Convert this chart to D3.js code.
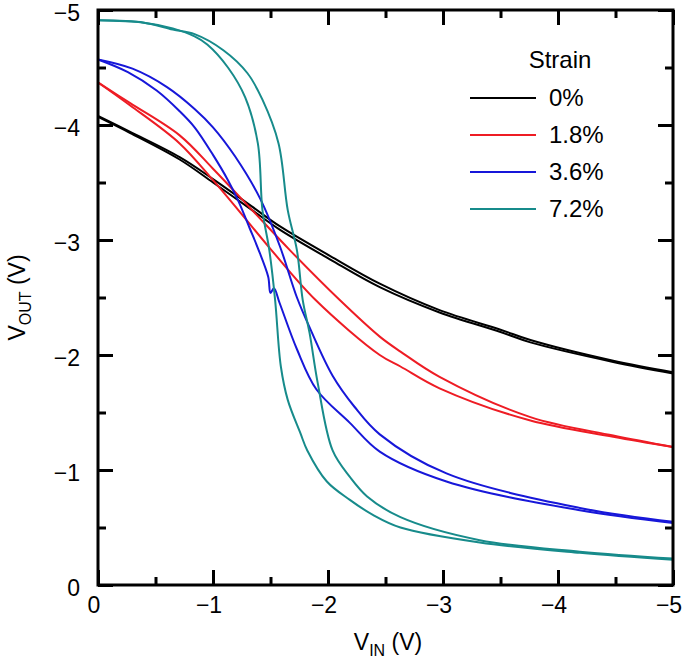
<!DOCTYPE html>
<html>
<head>
<meta charset="utf-8">
<script src="https://cdn.jsdelivr.net/npm/d3@7"></script>
<style>
  body { margin: 0; background: #fff; }
  text { font-family: "Liberation Sans", Arial, sans-serif; fill: #000; }
</style>
</head>
<body>
<svg id="chart" width="685" height="669"></svg>
<script>
var strainLabels = ['0%', '1.8%', '3.6%', '7.2%'];
var strainColors = ['#000000', '#ee1c24', '#1717d9', '#178b8b'];
var xTicks = [0, -1, -2, -3, -4, -5];
var yTicks = [0, -1, -2, -3, -4, -5];
var minorTicks = [-0.5, -1.5, -2.5, -3.5, -4.5];

var strain0A = [[0,-4.07],[-0.28,-3.93],[-0.71,-3.70],[-1.0,-3.50],[-1.34,-3.26],[-1.58,-3.09],[-2.02,-2.83],[-2.45,-2.59],[-2.97,-2.37],[-3.5,-2.20],[-3.76,-2.11],[-4.48,-1.94],[-5.0,-1.84]];
var strain0B = [[0,-4.08],[-0.28,-3.94],[-0.71,-3.72],[-1.0,-3.53],[-1.34,-3.29],[-1.58,-3.12],[-2.02,-2.86],[-2.45,-2.62],[-2.97,-2.39],[-3.5,-2.22],[-3.76,-2.13],[-4.48,-1.95],[-5.0,-1.85]];
var strain18A = [[0,-4.37],[-0.28,-4.19],[-0.71,-3.91],[-1.0,-3.62],[-1.34,-3.26],[-1.67,-2.91],[-2.10,-2.48],[-2.45,-2.16],[-2.63,-2.03],[-2.97,-1.81],[-3.76,-1.46],[-4.48,-1.30],[-5.0,-1.20]];
var strain18B = [[0,-4.37],[-0.28,-4.17],[-0.71,-3.84],[-1.0,-3.52],[-1.22,-3.26],[-1.51,-2.91],[-1.89,-2.48],[-2.45,-2.00],[-2.63,-1.90],[-2.97,-1.71],[-3.76,-1.43],[-4.48,-1.29],[-5.0,-1.20]];
var strain36A = [[0,-4.57],[-0.3,-4.49],[-0.6,-4.33],[-0.84,-4.14],[-1.0,-3.98],[-1.19,-3.73],[-1.41,-3.36],[-1.58,-2.95],[-1.73,-2.50],[-1.84,-2.24],[-2.04,-1.82],[-2.23,-1.55],[-2.45,-1.31],[-3.03,-0.97],[-4.19,-0.67],[-5.0,-0.55]];
var strain36B = [[0,-4.57],[-0.26,-4.46],[-0.51,-4.30],[-0.71,-4.12],[-0.84,-3.98],[-1.0,-3.74],[-1.13,-3.52],[-1.22,-3.34],[-1.32,-3.10],[-1.39,-2.93],[-1.48,-2.68],[-1.50,-2.54],[-1.53,-2.58],[-1.58,-2.45],[-1.73,-2.05],[-1.90,-1.70],[-2.19,-1.41],[-2.45,-1.16],[-3.03,-0.90],[-4.19,-0.65],[-5.0,-0.54]];
var strain72A = [[0,-4.91],[-0.40,-4.89],[-0.65,-4.83],[-0.84,-4.79],[-1.09,-4.65],[-1.30,-4.45],[-1.43,-4.22],[-1.57,-3.84],[-1.65,-3.26],[-1.73,-2.91],[-1.78,-2.48],[-1.84,-2.19],[-1.91,-1.76],[-2.04,-1.17],[-2.19,-0.94],[-2.34,-0.77],[-2.63,-0.59],[-3.32,-0.39],[-4.19,-0.29],[-5.0,-0.23]];
var strain72B = [[0,-4.91],[-0.40,-4.89],[-0.65,-4.84],[-0.84,-4.77],[-0.95,-4.70],[-1.13,-4.50],[-1.28,-4.24],[-1.39,-3.84],[-1.43,-3.26],[-1.49,-2.91],[-1.54,-2.48],[-1.59,-1.90],[-1.65,-1.61],[-1.76,-1.32],[-1.82,-1.17],[-1.99,-0.90],[-2.19,-0.74],[-2.39,-0.61],[-2.63,-0.50],[-3.32,-0.37],[-4.19,-0.28],[-5.0,-0.22]];

var sweeps = [
    [strain0A, strain0B],
    [strain18A, strain18B],
    [strain36A, strain36B],
    [strain72A, strain72B]
];

var plotLeft = 98, plotRight = 673, plotTop = 10, plotBottom = 585;

var svg = d3.select('#chart');

var x = d3.scaleLinear().domain([0, -5]).range([plotLeft, plotRight]);
var y = d3.scaleLinear().domain([0, -5]).range([plotBottom, plotTop]);

var line = d3.line()
    .x(function(d) { return x(d[0]); })
    .y(function(d) { return y(d[1]); })
    .curve(d3.curveCatmullRom.alpha(0.5));

// curves
sweeps.forEach(function(pair, i) {
    svg.append('g')
        .attr('class', 'strain')
        .selectAll('path')
        .data(pair)
        .enter().append('path')
            .attr('d', line)
            .attr('fill', 'none')
            .attr('stroke-width', 2)
            .attr('stroke-linejoin', 'round')
            .attr('stroke', strainColors[i]);
});

// inward ticks on all four sides
function ticks(axis, vals, size, transform) {
    svg.append('g')
        .attr('transform', transform)
        .call(axis.tickValues(vals).tickSize(-size).tickFormat(''))
        .call(function(g) {
            g.select('.domain').remove();
            g.selectAll('line').attr('stroke-width', 3);
        });
}
ticks(d3.axisBottom(x), xTicks, 15, 'translate(0,' + plotBottom + ')');
ticks(d3.axisBottom(x), minorTicks, 8, 'translate(0,' + plotBottom + ')');
ticks(d3.axisTop(x), xTicks, 15, 'translate(0,' + plotTop + ')');
ticks(d3.axisTop(x), minorTicks, 8, 'translate(0,' + plotTop + ')');
ticks(d3.axisLeft(y), yTicks, 15, 'translate(' + plotLeft + ',0)');
ticks(d3.axisLeft(y), minorTicks, 8, 'translate(' + plotLeft + ',0)');
ticks(d3.axisRight(y), yTicks, 15, 'translate(' + plotRight + ',0)');
ticks(d3.axisRight(y), minorTicks, 8, 'translate(' + plotRight + ',0)');

svg.append('rect')
    .attr('x', plotLeft).attr('y', plotTop)
    .attr('width', plotRight - plotLeft).attr('height', plotBottom - plotTop)
    .attr('fill', 'none')
    .attr('stroke', '#000')
    .attr('stroke-width', 3);

var fmt = d3.format('d');

svg.selectAll('.xlab')
    .data(xTicks)
    .enter().append('text')
        .attr('x', function(d) { return x(d) - 4; })
        .attr('y', 613)
        .attr('text-anchor', 'middle')
        .style('font-size', '23px')
        .text(fmt);

svg.selectAll('.ylab')
    .data(yTicks)
    .enter().append('text')
        .attr('x', 80)
        .attr('y', function(d) { return y(d) + 11; })
        .attr('text-anchor', 'end')
        .style('font-size', '23px')
        .text(fmt);

// axis titles
var xt = svg.append('text')
    .attr('x', 388).attr('y', 650)
    .attr('text-anchor', 'middle')
    .style('font-size', '23px');
xt.append('tspan').text('V');
xt.append('tspan').attr('dy', 6).style('font-size', '16px').text('IN');
xt.append('tspan').attr('dy', -6).text(' (V)');

var yt = svg.append('text')
    .attr('transform', 'translate(25,' + ((plotTop + plotBottom) / 2) + ') rotate(-90)')
    .attr('text-anchor', 'middle')
    .style('font-size', '23px');
yt.append('tspan').text('V');
yt.append('tspan').attr('dy', 6).style('font-size', '16px').text('OUT');
yt.append('tspan').attr('dy', -6).text(' (V)');

// legend
svg.append('text')
    .attr('x', 560).attr('y', 68)
    .attr('text-anchor', 'middle')
    .style('font-size', '24px')
    .text('Strain');

var legend = svg.selectAll('.legend')
    .data(strainLabels)
    .enter().append('g')
        .attr('transform', function(d, i) { return 'translate(470,' + (98 + i * 37) + ')'; });

legend.append('line')
    .attr('x1', 0).attr('x2', 66)
    .attr('stroke', function(d, i) { return strainColors[i]; })
    .attr('stroke-width', 2);

legend.append('text')
    .attr('x', 79).attr('y', 8)
    .style('font-size', '24px')
    .text(function(d) { return d; });
</script>
</body>
</html>
